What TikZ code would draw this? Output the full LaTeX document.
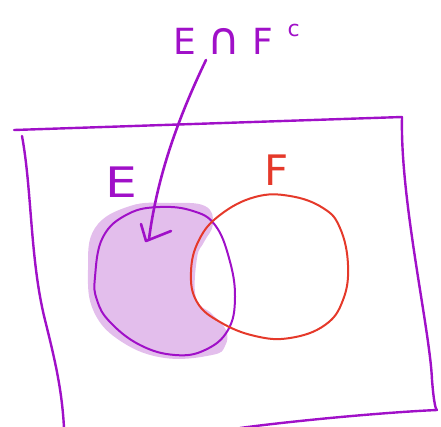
\documentclass[tikz,border=0pt]{standalone}
\usepackage{fontspec}
\usepackage{graphicx}
\newfontfamily\labelfont{DejaVu Sans}
\usetikzlibrary{calc}
\definecolor{penpurple}{HTML}{A010C8}
\definecolor{penred}{HTML}{E5392A}
\definecolor{fillpurple}{HTML}{E3BEEC}
\tikzset{
  frameline/.style={draw=penpurple, line width=2.4pt, line cap=round, line join=round},
  ecircle/.style={draw=penpurple, line width=2pt},
  fcircle/.style={draw=penred, line width=2pt},
  arrowline/.style={draw=penpurple, line width=2.6pt, line cap=round, line join=round},
  setlabel/.style={font=\fontsize{42}{42}\selectfont\labelfont, inner sep=0pt},
}
\begin{document}
\begin{tikzpicture}[x=1pt, y=-1pt]
\useasboundingbox (0,0) rectangle (441,426);
% frame
\coordinate (tl) at (14,130);
\coordinate (tr) at (402,117);
\coordinate (br) at (437,410);
\draw[frameline] (tl) -- (tr);
\draw[frameline] (tr) .. controls (400,200) and (430,330) .. (432,380) .. controls (434,405) and (436,410) .. (br);
\draw[frameline] (br) .. controls (390,412) and (300,420) .. (240,428);
\draw[frameline] (22,136) .. controls (32,190) and (30,260) .. (45,320) .. controls (55,360) and (62,390) .. (64,428);
% fill E minus F
\fill[fillpurple] plot[smooth cycle, tension=0.7] coordinates {
  (205,206) (213,224) (204,242) (197,258) (196,298) (212,314) (226,330) (225,346) (212,355)
  (165,358) (122,342) (94,312) (88,270) (95,228) (130,206) (170,203)};
% circles
\draw[ecircle] plot[smooth cycle, tension=0.7] coordinates {
  (95,277) (103,237) (128,214) (160,207) (193,211) (215,225) (229,258) (235,297)
  (228,330) (205,350) (175,355) (140,345) (110,322) (97,300)};
\draw[fcircle] plot[smooth cycle, tension=0.7] coordinates {
  (191,272) (199,240) (220,215) (255,197) (290,196) (323,208) (340,228) (348,265)
  (343,300) (325,325) (290,338) (255,336) (220,322) (197,302)};
% labels
\node[setlabel, text=penpurple, xscale=1.2] (Elabel) at (121,182) {E};
\node[setlabel, text=penred] (Flabel) at (277,170) {F};
\node[font=\fontsize{36}{36}\selectfont\labelfont, text=penpurple, inner sep=0pt, anchor=base west] (EFc) at (173,54)
  {E\hspace{12pt}\scalebox{1.25}{∩}\hspace{12pt}F\hspace{14pt}\raisebox{18pt}{\fontsize{22}{22}\selectfont c}};
% arrow
\coordinate (start) at (206,60);
\coordinate (tip) at (149,239);
\draw[arrowline] (start) .. controls (182,110) and (158,170) .. (tip);
\draw[arrowline] (141,224) -- (146,241) -- (171,231);
\end{tikzpicture}
\end{document}
